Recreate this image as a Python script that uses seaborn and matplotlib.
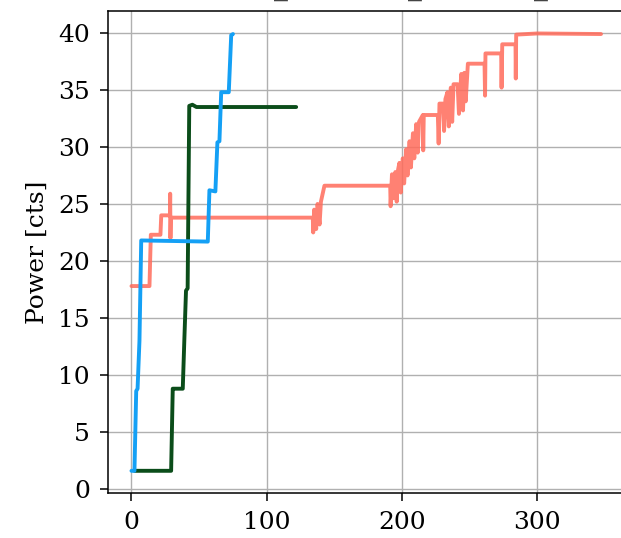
import matplotlib
matplotlib.use("Agg")
import matplotlib.pyplot as plt
import matplotlib.transforms as mtransforms
import seaborn as sns

sns.set_style("ticks", {
    "axes.edgecolor": "black",
    "axes.grid": True,
    "grid.color": "#b0b0b0",
    "xtick.color": "black",
    "ytick.color": "black",
    "axes.labelcolor": "black",
    "text.color": "black",
})
plt.rcParams["font.family"] = ["DejaVu Serif"]
plt.rcParams["font.size"] = 18

# blue run
blue_t = [0, 2.2, 3.5, 4.5, 5.9, 7.2, 56.4, 57.6, 62, 63.5, 65, 66.3, 71.9, 73.7, 75]
blue_p = [1.6, 1.6, 8.6, 8.8, 13.0, 21.8, 21.7, 26.2, 26.1, 30.4, 30.5, 34.8, 34.8, 39.8, 39.9]

# dark green run
green_t = [2.2, 29.3, 30.5, 31, 37.9, 39.1, 40.3, 41.5, 42.7, 45, 48, 121.7]
green_p = [1.6, 1.6, 8.8, 8.8, 8.8, 13.2, 17.4, 17.6, 33.6, 33.7, 33.5, 33.5]

# salmon run (noisy, with dips)
salmon_t = [0, 13.3, 14.3, 21.4, 22, 28.4, 28.6, 28.8, 29.1, 134, 134.3, 135, 136.5,
            137.5, 139, 140, 142.6, 191.2, 191.5, 192.5, 193.5, 195, 196, 197, 198,
            199, 200.5, 201.5, 203, 204, 205.5, 206.5, 208, 209, 210.4, 211.5, 212.5,
            215.3, 215.6, 216, 226.4, 227, 227.6, 230, 231, 232, 233.5, 234.5, 236,
            237, 238, 241, 242, 243.7, 245, 246, 247, 248.6, 260.9, 261.3, 261.6,
            273.2, 273.5, 274, 283.8, 284, 284.3, 300, 347]
salmon_p = [17.8, 17.8, 22.3, 22.3, 24.0, 24.0, 25.9, 22.0, 23.8, 23.8, 22.5, 24.5, 22.8,
            25.0, 23.2, 25.2, 26.6, 26.6, 24.8, 27.6, 25.5, 27.8, 25.2, 28.0, 28.6,
            26.0, 29.0, 26.8, 29.8, 27.5, 30.5, 28.2, 31.2, 29.0, 32.0, 29.5, 32.2,
            32.8, 29.7, 32.8, 32.8, 30.3, 33.8, 33.8, 31.4, 34.2, 34.8, 31.8, 35.2,
            32.2, 35.5, 35.5, 32.9, 36.4, 33.2, 36.5, 34.0, 37.3, 37.3, 34.5, 38.2,
            38.2, 35.2, 39.0, 39.0, 36.0, 39.85, 39.95, 39.9]

fig = plt.figure(figsize=(6.21, 5.38), dpi=100)
# axes runs past the right edge of the figure (cropped like the original)
ax = fig.add_axes([108 / 621, 45.3 / 538, 532 / 621, 481.7 / 538])

sns.lineplot(x=salmon_t, y=salmon_p, ax=ax, sort=False, estimator=None,
             color="#ff6b5b", alpha=0.85, linewidth=2.8)
sns.lineplot(x=green_t, y=green_p, ax=ax, sort=False, estimator=None,
             color="#0b4d1a", linewidth=2.8)
sns.lineplot(x=blue_t, y=blue_p, ax=ax, sort=False, estimator=None,
             color="#14a0f5", linewidth=2.8)

ax.set_xlim(-17.35, 375.8)
ax.set_ylim(-0.32, 41.92)
ax.set_xticks([0, 100, 200, 300])
ax.set_yticks(range(0, 41, 5))
ax.set_ylabel("Power [cts]", labelpad=7)
ax.grid(True, color="#b0b0b0", linewidth=1.0)
ax.tick_params(length=6, width=1.1, pad=7)
for s in ax.spines.values():
    s.set_linewidth(1.1)
    s.set_color("black")
ax.spines["right"].set_visible(False)

# clipped title fragments at the top edge
off = mtransforms.offset_copy(fig.transFigure, fig=fig, y=3.5, units="points")
for xp in [281, 415, 541]:
    fig.text(xp / 621, 1.0, "_", transform=off, ha="center", va="baseline",
             fontsize=20, color="#444444")

fig.savefig("out.png", dpi=100)
